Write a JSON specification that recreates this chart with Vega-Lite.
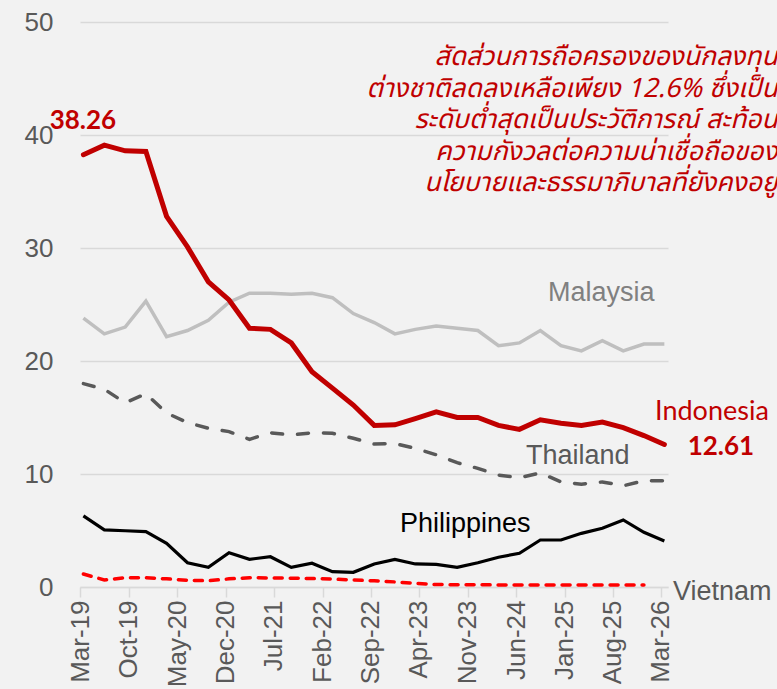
{
  "$schema": "https://vega.github.io/schema/vega-lite/v6.json",
  "width": 588,
  "height": 565,
  "autosize": "none",
  "padding": {"left": 80, "top": 22, "right": 109, "bottom": 102},
  "background": "#F2F2F2",
  "config": {"view": {"stroke": null}, "font": "Liberation Sans"},
  "datasets": {
    "series": [
      {"date": "2019-03-16", "country": "Indonesia", "value": 38.26},
      {"date": "2019-06-16", "country": "Indonesia", "value": 39.1},
      {"date": "2019-09-16", "country": "Indonesia", "value": 38.6},
      {"date": "2019-12-16", "country": "Indonesia", "value": 38.55},
      {"date": "2020-03-16", "country": "Indonesia", "value": 32.8},
      {"date": "2020-06-16", "country": "Indonesia", "value": 30.1},
      {"date": "2020-09-16", "country": "Indonesia", "value": 27.0},
      {"date": "2020-12-16", "country": "Indonesia", "value": 25.4},
      {"date": "2021-03-16", "country": "Indonesia", "value": 22.9},
      {"date": "2021-06-16", "country": "Indonesia", "value": 22.8},
      {"date": "2021-09-16", "country": "Indonesia", "value": 21.6},
      {"date": "2021-12-16", "country": "Indonesia", "value": 19.05},
      {"date": "2022-03-16", "country": "Indonesia", "value": 17.6},
      {"date": "2022-06-16", "country": "Indonesia", "value": 16.1},
      {"date": "2022-09-16", "country": "Indonesia", "value": 14.3},
      {"date": "2022-12-16", "country": "Indonesia", "value": 14.35},
      {"date": "2023-03-16", "country": "Indonesia", "value": 14.9},
      {"date": "2023-06-16", "country": "Indonesia", "value": 15.5},
      {"date": "2023-09-16", "country": "Indonesia", "value": 15.0},
      {"date": "2023-12-16", "country": "Indonesia", "value": 15.0},
      {"date": "2024-03-16", "country": "Indonesia", "value": 14.3},
      {"date": "2024-06-16", "country": "Indonesia", "value": 13.95},
      {"date": "2024-09-16", "country": "Indonesia", "value": 14.8},
      {"date": "2024-12-16", "country": "Indonesia", "value": 14.5},
      {"date": "2025-03-16", "country": "Indonesia", "value": 14.3},
      {"date": "2025-06-16", "country": "Indonesia", "value": 14.6},
      {"date": "2025-09-16", "country": "Indonesia", "value": 14.1},
      {"date": "2025-12-16", "country": "Indonesia", "value": 13.4},
      {"date": "2026-03-16", "country": "Indonesia", "value": 12.61},
      {"date": "2019-03-16", "country": "Malaysia", "value": 23.8},
      {"date": "2019-06-16", "country": "Malaysia", "value": 22.4},
      {"date": "2019-09-16", "country": "Malaysia", "value": 23.0},
      {"date": "2019-12-16", "country": "Malaysia", "value": 25.3},
      {"date": "2020-03-16", "country": "Malaysia", "value": 22.15},
      {"date": "2020-06-16", "country": "Malaysia", "value": 22.7},
      {"date": "2020-09-16", "country": "Malaysia", "value": 23.6},
      {"date": "2020-12-16", "country": "Malaysia", "value": 25.2},
      {"date": "2021-03-16", "country": "Malaysia", "value": 26.0},
      {"date": "2021-06-16", "country": "Malaysia", "value": 26.0},
      {"date": "2021-09-16", "country": "Malaysia", "value": 25.9},
      {"date": "2021-12-16", "country": "Malaysia", "value": 26.0},
      {"date": "2022-03-16", "country": "Malaysia", "value": 25.6},
      {"date": "2022-06-16", "country": "Malaysia", "value": 24.2},
      {"date": "2022-09-16", "country": "Malaysia", "value": 23.4},
      {"date": "2022-12-16", "country": "Malaysia", "value": 22.4},
      {"date": "2023-03-16", "country": "Malaysia", "value": 22.8},
      {"date": "2023-06-16", "country": "Malaysia", "value": 23.1},
      {"date": "2023-09-16", "country": "Malaysia", "value": 22.9},
      {"date": "2023-12-16", "country": "Malaysia", "value": 22.7},
      {"date": "2024-03-16", "country": "Malaysia", "value": 21.35},
      {"date": "2024-06-16", "country": "Malaysia", "value": 21.6},
      {"date": "2024-09-16", "country": "Malaysia", "value": 22.7},
      {"date": "2024-12-16", "country": "Malaysia", "value": 21.35},
      {"date": "2025-03-16", "country": "Malaysia", "value": 20.9},
      {"date": "2025-06-16", "country": "Malaysia", "value": 21.8},
      {"date": "2025-09-16", "country": "Malaysia", "value": 20.9},
      {"date": "2025-12-16", "country": "Malaysia", "value": 21.5},
      {"date": "2026-03-16", "country": "Malaysia", "value": 21.5},
      {"date": "2019-03-16", "country": "Thailand", "value": 18.0},
      {"date": "2019-06-16", "country": "Thailand", "value": 17.5},
      {"date": "2019-09-16", "country": "Thailand", "value": 16.3},
      {"date": "2019-12-16", "country": "Thailand", "value": 17.1},
      {"date": "2020-03-16", "country": "Thailand", "value": 15.4},
      {"date": "2020-06-16", "country": "Thailand", "value": 14.55},
      {"date": "2020-09-16", "country": "Thailand", "value": 14.05},
      {"date": "2020-12-16", "country": "Thailand", "value": 13.75},
      {"date": "2021-03-16", "country": "Thailand", "value": 13.07},
      {"date": "2021-06-16", "country": "Thailand", "value": 13.65},
      {"date": "2021-09-16", "country": "Thailand", "value": 13.45},
      {"date": "2021-12-16", "country": "Thailand", "value": 13.65},
      {"date": "2022-03-16", "country": "Thailand", "value": 13.6},
      {"date": "2022-06-16", "country": "Thailand", "value": 13.16},
      {"date": "2022-09-16", "country": "Thailand", "value": 12.65},
      {"date": "2022-12-16", "country": "Thailand", "value": 12.7},
      {"date": "2023-03-16", "country": "Thailand", "value": 12.27},
      {"date": "2023-06-16", "country": "Thailand", "value": 11.7},
      {"date": "2023-09-16", "country": "Thailand", "value": 11.0},
      {"date": "2023-12-16", "country": "Thailand", "value": 10.5},
      {"date": "2024-03-16", "country": "Thailand", "value": 9.9},
      {"date": "2024-06-16", "country": "Thailand", "value": 9.67},
      {"date": "2024-09-16", "country": "Thailand", "value": 10.1},
      {"date": "2024-12-16", "country": "Thailand", "value": 9.3},
      {"date": "2025-03-16", "country": "Thailand", "value": 9.1},
      {"date": "2025-06-16", "country": "Thailand", "value": 9.3},
      {"date": "2025-09-16", "country": "Thailand", "value": 8.96},
      {"date": "2025-12-16", "country": "Thailand", "value": 9.4},
      {"date": "2026-03-16", "country": "Thailand", "value": 9.4},
      {"date": "2019-03-16", "country": "Philippines", "value": 6.3},
      {"date": "2019-06-16", "country": "Philippines", "value": 5.05},
      {"date": "2019-09-16", "country": "Philippines", "value": 4.98},
      {"date": "2019-12-16", "country": "Philippines", "value": 4.9},
      {"date": "2020-03-16", "country": "Philippines", "value": 3.87},
      {"date": "2020-06-16", "country": "Philippines", "value": 2.15},
      {"date": "2020-09-16", "country": "Philippines", "value": 1.74},
      {"date": "2020-12-16", "country": "Philippines", "value": 3.04},
      {"date": "2021-03-16", "country": "Philippines", "value": 2.45},
      {"date": "2021-06-16", "country": "Philippines", "value": 2.68},
      {"date": "2021-09-16", "country": "Philippines", "value": 1.74},
      {"date": "2021-12-16", "country": "Philippines", "value": 2.1},
      {"date": "2022-03-16", "country": "Philippines", "value": 1.36},
      {"date": "2022-06-16", "country": "Philippines", "value": 1.3},
      {"date": "2022-09-16", "country": "Philippines", "value": 2.04},
      {"date": "2022-12-16", "country": "Philippines", "value": 2.45},
      {"date": "2023-03-16", "country": "Philippines", "value": 2.04},
      {"date": "2023-06-16", "country": "Philippines", "value": 2.0},
      {"date": "2023-09-16", "country": "Philippines", "value": 1.74},
      {"date": "2023-12-16", "country": "Philippines", "value": 2.15},
      {"date": "2024-03-16", "country": "Philippines", "value": 2.63},
      {"date": "2024-06-16", "country": "Philippines", "value": 2.98},
      {"date": "2024-09-16", "country": "Philippines", "value": 4.16},
      {"date": "2024-12-16", "country": "Philippines", "value": 4.16},
      {"date": "2025-03-16", "country": "Philippines", "value": 4.75},
      {"date": "2025-06-16", "country": "Philippines", "value": 5.2},
      {"date": "2025-09-16", "country": "Philippines", "value": 5.93},
      {"date": "2025-12-16", "country": "Philippines", "value": 4.84},
      {"date": "2026-03-16", "country": "Philippines", "value": 4.07},
      {"date": "2019-03-16", "country": "Vietnam", "value": 1.15},
      {"date": "2019-06-16", "country": "Vietnam", "value": 0.62},
      {"date": "2019-09-16", "country": "Vietnam", "value": 0.82},
      {"date": "2019-12-16", "country": "Vietnam", "value": 0.82},
      {"date": "2020-03-16", "country": "Vietnam", "value": 0.72},
      {"date": "2020-06-16", "country": "Vietnam", "value": 0.6},
      {"date": "2020-09-16", "country": "Vietnam", "value": 0.55},
      {"date": "2020-12-16", "country": "Vietnam", "value": 0.72},
      {"date": "2021-03-16", "country": "Vietnam", "value": 0.82},
      {"date": "2021-06-16", "country": "Vietnam", "value": 0.8},
      {"date": "2021-09-16", "country": "Vietnam", "value": 0.78},
      {"date": "2021-12-16", "country": "Vietnam", "value": 0.75},
      {"date": "2022-03-16", "country": "Vietnam", "value": 0.7},
      {"date": "2022-06-16", "country": "Vietnam", "value": 0.62},
      {"date": "2022-09-16", "country": "Vietnam", "value": 0.55},
      {"date": "2022-12-16", "country": "Vietnam", "value": 0.45},
      {"date": "2023-03-16", "country": "Vietnam", "value": 0.33},
      {"date": "2023-06-16", "country": "Vietnam", "value": 0.22},
      {"date": "2023-09-16", "country": "Vietnam", "value": 0.2},
      {"date": "2023-12-16", "country": "Vietnam", "value": 0.2},
      {"date": "2024-03-16", "country": "Vietnam", "value": 0.18},
      {"date": "2024-06-16", "country": "Vietnam", "value": 0.18},
      {"date": "2024-09-16", "country": "Vietnam", "value": 0.18},
      {"date": "2024-12-16", "country": "Vietnam", "value": 0.18},
      {"date": "2025-03-16", "country": "Vietnam", "value": 0.18},
      {"date": "2025-06-16", "country": "Vietnam", "value": 0.18},
      {"date": "2025-09-16", "country": "Vietnam", "value": 0.18},
      {"date": "2025-12-16", "country": "Vietnam", "value": 0.18}
    ],
    "notes": [
      {"key": "Malaysia", "date": "2024-10-20", "value": 26.0, "label": "Malaysia"},
      {"key": "Thailand", "date": "2024-07-15", "value": 11.6, "label": "Thailand"},
      {"key": "Philippines", "date": "2023-01-07", "value": 5.6, "label": "Philippines"},
      {"key": "Vietnam", "date": "2026-04-23", "value": -0.45, "label": "Vietnam"},
      {"key": "Indonesia", "date": "2026-02-03", "value": 15.5, "label": "Indonesia"},
      {"key": "last", "date": "2026-11-20", "value": 12.4, "label": "12.61"},
      {"key": "first", "date": "2019-03-14", "value": 41.2, "label": "38.26"},
      {"key": "thai", "date": "2027-07-28", "value": 46.9, "lines": ["สัดส่วนการถือครองของนักลงทุน", "ต่างชาติลดลงเหลือเพียง 12.6% ซึ่งเป็น", "ระดับต่ำสุดเป็นประวัติการณ์ สะท้อน", "ความกังวลต่อความน่าเชื่อถือของ", "นโยบายและธรรมาภิบาลที่ยังคงอยู่"]}
    ]
  },
  "encoding": {
    "x": {
      "field": "date", "type": "temporal",
      "scale": {"type": "utc", "domain": [{"year": 2019, "month": 3, "date": 1, "utc": true}, {"year": 2026, "month": 4, "date": 1, "utc": true}]},
      "axis": {
        "title": null, "grid": false,
        "values": [
          {"year": 2019, "month": 3, "date": 1, "utc": true},
          {"year": 2019, "month": 10, "date": 1, "utc": true},
          {"year": 2020, "month": 5, "date": 1, "utc": true},
          {"year": 2020, "month": 12, "date": 1, "utc": true},
          {"year": 2021, "month": 7, "date": 1, "utc": true},
          {"year": 2022, "month": 2, "date": 1, "utc": true},
          {"year": 2022, "month": 9, "date": 1, "utc": true},
          {"year": 2023, "month": 4, "date": 1, "utc": true},
          {"year": 2023, "month": 11, "date": 1, "utc": true},
          {"year": 2024, "month": 6, "date": 1, "utc": true},
          {"year": 2025, "month": 1, "date": 1, "utc": true},
          {"year": 2025, "month": 8, "date": 1, "utc": true},
          {"year": 2026, "month": 3, "date": 1, "utc": true}
        ],
        "format": "%b-%y",
        "labelAngle": 270,
        "labelFont": "Liberation Sans",
        "labelFontSize": 26,
        "labelColor": "#595959",
        "labelPadding": 3,
        "labelOverlap": false,
        "labelFlush": false,
        "domainColor": "#D9D9D9",
        "domainWidth": 1.5,
        "tickColor": "#D9D9D9",
        "tickWidth": 1.5,
        "tickSize": 10
      }
    },
    "y": {
      "field": "value", "type": "quantitative",
      "scale": {"domain": [0, 50], "nice": false},
      "axis": {
        "title": null, "values": [0, 10, 20, 30, 40, 50],
        "domain": false, "ticks": false,
        "gridColor": "#D9D9D9", "gridWidth": 1.5,
        "labelFont": "Liberation Sans", "labelFontSize": 26, "labelColor": "#595959",
        "labelPadding": 27
      }
    }
  },
  "layer": [
    {
      "data": {"name": "series"},
      "transform": [{"filter": "datum.country === 'Vietnam'"}],
      "mark": {"type": "line", "color": "#FF0000", "strokeWidth": 3.5, "strokeDash": [8, 8], "strokeCap": "round"}
    },
    {
      "data": {"name": "series"},
      "transform": [{"filter": "datum.country === 'Philippines'"}],
      "mark": {"type": "line", "color": "#000000", "strokeWidth": 3.2}
    },
    {
      "data": {"name": "series"},
      "transform": [{"filter": "datum.country === 'Thailand'"}],
      "mark": {"type": "line", "color": "#595959", "strokeWidth": 3.5, "strokeDash": [11, 15], "strokeCap": "round"}
    },
    {
      "data": {"name": "series"},
      "transform": [{"filter": "datum.country === 'Malaysia'"}],
      "mark": {"type": "line", "color": "#BFBFBF", "strokeWidth": 3.5}
    },
    {
      "data": {"name": "series"},
      "transform": [{"filter": "datum.country === 'Indonesia'"}],
      "mark": {"type": "line", "color": "#C00000", "strokeWidth": 5, "strokeCap": "round"}
    },
    {
      "data": {"name": "notes"},
      "transform": [{"filter": "datum.key === 'Malaysia'"}],
      "mark": {"type": "text", "align": "left", "baseline": "middle", "font": "Liberation Sans", "fontSize": 27, "color": "#808080"},
      "encoding": {"text": {"field": "label"}}
    },
    {
      "data": {"name": "notes"},
      "transform": [{"filter": "datum.key === 'Thailand' || datum.key === 'Vietnam'"}],
      "mark": {"type": "text", "align": "left", "baseline": "middle", "font": "Liberation Sans", "fontSize": 27, "color": "#595959"},
      "encoding": {"text": {"field": "label"}}
    },
    {
      "data": {"name": "notes"},
      "transform": [{"filter": "datum.key === 'Philippines'"}],
      "mark": {"type": "text", "align": "left", "baseline": "middle", "font": "Liberation Sans", "fontSize": 27, "color": "#000000"},
      "encoding": {"text": {"field": "label"}}
    },
    {
      "data": {"name": "notes"},
      "transform": [{"filter": "datum.key === 'Indonesia'"}],
      "mark": {"type": "text", "align": "left", "baseline": "middle", "font": "Lato", "fontSize": 27, "color": "#C00000"},
      "encoding": {"text": {"field": "label"}}
    },
    {
      "data": {"name": "notes"},
      "transform": [{"filter": "datum.key === 'last' || datum.key === 'first'"}],
      "mark": {"type": "text", "align": "center", "baseline": "middle", "font": "Lato", "fontWeight": "bold", "fontSize": 26, "color": "#C00000"},
      "encoding": {"text": {"field": "label"}}
    },
    {
      "data": {"name": "notes"},
      "transform": [{"filter": "datum.key === 'thai'"}],
      "mark": {"type": "text", "align": "right", "baseline": "middle", "font": "Noto Sans Thai, Tahoma, DejaVu Sans, sans-serif", "fontStyle": "italic", "fontSize": 26.5, "lineHeight": 31.5, "color": "#C00000"},
      "encoding": {"text": {"field": "lines"}}
    }
  ]
}
